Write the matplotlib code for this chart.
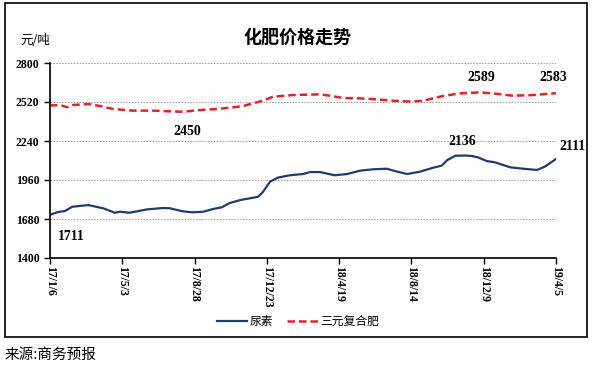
import numpy as np
import pandas as pd
import matplotlib
matplotlib.use("Agg")
import matplotlib.pyplot as plt
from matplotlib.patches import Rectangle

# 尿素 (urea), 元/吨
urea_dates = ["2017-01-06", "2017-01-19", "2017-01-30", "2017-02-11", "2017-03-09",
              "2017-04-02", "2017-04-21", "2017-04-29", "2017-05-15", "2017-06-12",
              "2017-07-08", "2017-07-19", "2017-08-09", "2017-08-25", "2017-09-11",
              "2017-09-27", "2017-10-11", "2017-10-24", "2017-11-10", "2017-12-01",
              "2017-12-09", "2017-12-17", "2017-12-28", "2018-01-10", "2018-01-29",
              "2018-02-20", "2018-03-03", "2018-03-19", "2018-04-12", "2018-05-02",
              "2018-05-23", "2018-06-13", "2018-07-05", "2018-07-22", "2018-08-07",
              "2018-08-28", "2018-09-18", "2018-10-02", "2018-10-11", "2018-10-24",
              "2018-11-09", "2018-11-20", "2018-11-30", "2018-12-14", "2018-12-27",
              "2019-01-21", "2019-02-11", "2019-03-05", "2019-03-18", "2019-04-05"]
urea = [1711, 1730, 1737, 1768, 1780, 1757, 1725, 1732, 1725, 1749,
        1759, 1757, 1735, 1728, 1732, 1752, 1764, 1795, 1816, 1833,
        1840, 1876, 1948, 1977, 1994, 2003, 2017, 2017, 1994, 2003,
        2027, 2037, 2041, 2020, 2003, 2020, 2048, 2063, 2103, 2134,
        2136, 2132, 2122, 2096, 2087, 2051, 2041, 2032, 2056, 2111]

# 三元复合肥 (compound fertilizer), 元/吨
comp_dates = ["2017-01-06", "2017-01-22", "2017-02-03", "2017-02-12", "2017-03-09",
              "2017-03-28", "2017-04-18", "2017-05-20", "2017-06-22", "2017-07-24",
              "2017-08-09", "2017-09-06", "2017-10-03", "2017-10-24", "2017-11-14",
              "2017-12-01", "2017-12-17", "2018-01-02", "2018-02-03", "2018-03-19",
              "2018-04-04", "2018-04-25", "2018-05-23", "2018-06-19", "2018-07-15",
              "2018-08-12", "2018-09-02", "2018-10-04", "2018-11-01", "2018-12-03",
              "2019-01-04", "2019-01-25", "2019-02-27", "2019-04-05"]
comp = [2495, 2498, 2482, 2498, 2506, 2491, 2470, 2458, 2458, 2452,
        2450, 2462, 2470, 2479, 2490, 2511, 2530, 2558, 2570, 2575,
        2565, 2549, 2546, 2539, 2529, 2524, 2529, 2563, 2582, 2589,
        2577, 2565, 2570, 2583]

tick_dates = ["2017-01-06", "2017-05-03", "2017-08-28", "2017-12-23",
              "2018-04-19", "2018-08-14", "2018-12-09", "2019-04-05"]
tick_labels = ["17/1/6", "17/5/3", "17/8/28", "17/12/23",
               "18/4/19", "18/8/14", "18/12/9", "19/4/5"]
yticks = [1400, 1680, 1960, 2240, 2520, 2800]

BLUE = "#1F3C72"
RED = "#E8202A"
cjk = ["Noto Sans CJK SC", "DejaVu Sans"]
num_font = dict(family="Liberation Serif", weight="bold")

ud = pd.to_datetime(urea_dates)
cd = pd.to_datetime(comp_dates)
td = pd.to_datetime(tick_dates)

fig = plt.figure(figsize=(5.96, 3.66), dpi=100)
fig.patches.append(Rectangle((5 / 596, 1 - 337 / 366), 582 / 596, 334 / 366,
                             transform=fig.transFigure, fill=False,
                             edgecolor="black", lw=1.2))
ax = fig.add_axes([50 / 596, 1 - 258 / 366, 506 / 596, 195 / 366])

ax.plot(ud, urea, color=BLUE, lw=1.6, label="尿素")
ax.plot(cd, comp, color=RED, lw=1.8, ls=(0, (3, 1.6)), label="三元复合肥")

ax.set_ylim(1400, 2800)
ax.set_xlim(td[0], td[-1])
ax.set_yticks(yticks)
ax.set_yticklabels([str(v) for v in yticks], **num_font, fontsize=8.5)
ax.set_xticks(td)
ax.set_xticklabels(tick_labels, rotation=270, va="top", ha="center",
                   **num_font, fontsize=8.5)
ax.tick_params(axis="both", direction="out", length=4, width=1, color="black")
ax.tick_params(axis="x", pad=2)
for v in yticks[1:]:
    ax.axhline(v, color="#999999", lw=0.7, ls=(0, (1.5, 1.5)), zorder=0)
for s in ["top", "right"]:
    ax.spines[s].set_visible(False)
for s in ["left", "bottom"]:
    ax.spines[s].set_linewidth(1.2)

# value labels
lab = dict(textcoords="offset points", ha="center", va="center", fontsize=10, **num_font)
i_min = int(np.argmin(comp)); i_max = int(np.argmax(urea)); i_cmax = int(np.argmax(comp))
ax.annotate(str(urea[0]), (ud[0], urea[0]), xytext=(15, -16), **lab)
ax.annotate(str(urea[i_max]), (ud[i_max], urea[i_max]), xytext=(-2, 10), **lab)
ax.annotate(str(urea[-1]), (ud[-1], urea[-1]), xytext=(12, 9), **lab)
ax.annotate(str(comp[i_min]), (cd[i_min], comp[i_min]), xytext=(3, -14), **lab)
ax.annotate(str(comp[i_cmax]), (cd[i_cmax], comp[i_cmax]), xytext=(1, 11), **lab)
ax.annotate(str(comp[-1]), (cd[-1], comp[-1]), xytext=(-2, 11), **lab)

fig.text(298 / 596, 1 - 37 / 366, "化肥价格走势", ha="center", va="center",
         fontsize=13, fontweight="bold", family=cjk)
fig.text(20 / 596, 1 - 41 / 366, "元/吨", ha="left", va="center", fontsize=9, family=cjk)
fig.text(5 / 596, 1 - 355 / 366, "来源:商务预报", ha="left", va="center",
         fontsize=10.5, family=cjk)

leg = ax.legend(loc="center", bbox_to_anchor=(298 / 596, 1 - 322 / 366),
                bbox_transform=fig.transFigure, ncol=2, frameon=False,
                prop={"family": cjk, "size": 8.5}, handlelength=2.6,
                columnspacing=1.2, handletextpad=0.2)

fig.savefig("out.png", dpi=100)
